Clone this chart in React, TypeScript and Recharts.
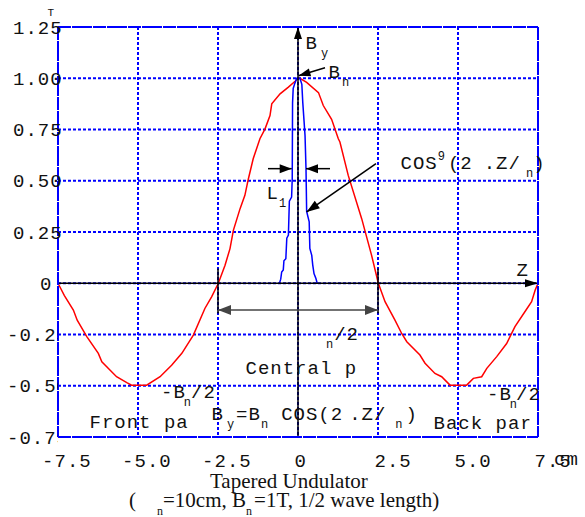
import { CartesianGrid, ComposedChart, Line, ReferenceDot, ReferenceLine, XAxis, YAxis } from 'recharts'

const BLUE = '#0000ff'
const RED = '#ff0000'
const INK = '#111111'
const MONO = '"Liberation Mono", "DejaVu Sans Mono", monospace'
const SERIF = '"Liberation Serif", "DejaVu Serif", serif'
const FS = 19
const LS = 1
const ADV = FS * 0.6 + LS

const xTicks = [-7.5, -5, -2.5, 0, 2.5, 5, 7.5]
const xTickLabels = ['-7.5', '-5.0', '-2.5', '0', '2.5', '5.0', '7.5']
const yTicks = [-0.75, -0.5, -0.25, 0, 0.25, 0.5, 0.75, 1, 1.25]
const yTickLabels = ['-0.75', '-0.50', '-0.25', '0', '0.25', '0.50', '0.75', '1.00', '1.25']

// tapered field By (red)
const taperedZ = [
  -7.5, -7.3, -7.02, -6.9, -6.6, -6.24, -6.13, -5.67, -5.35, -5.2, -4.73, -4.31, -3.95, -3.63, -3.27,
  -2.91, -2.7, -2.49, -2.28, -2.125, -2.02, -1.81, -1.66, -1.55, -1.4, -1.19, -1.03, -0.875, -0.82,
  -0.56, -0.3, -0.09, 0, 0.06, 0.27, 0.64, 0.79, 1.05, 1.26, 1.31, 1.57, 1.99, 2.3, 2.51, 2.72, 3.03,
  3.24, 3.4, 3.81, 3.97, 4.28, 4.49, 4.75, 5.27, 5.48, 5.74, 5.9, 6.21, 6.52, 6.78, 7.09, 7.3, 7.41, 7.5,
]
const taperedB = [
  0, -0.06, -0.131, -0.18, -0.26, -0.342, -0.383, -0.456, -0.485, -0.497, -0.497, -0.456, -0.4, -0.342,
  -0.253, -0.123, -0.066, 0, 0.088, 0.169, 0.258, 0.364, 0.429, 0.51, 0.607, 0.705, 0.753, 0.818, 0.875,
  0.924, 0.957, 0.985, 1.0, 1.0, 0.98, 0.93, 0.867, 0.8, 0.705, 0.689, 0.526, 0.315, 0.136, 0, -0.09,
  -0.18, -0.245, -0.285, -0.35, -0.39, -0.44, -0.456, -0.497, -0.497, -0.464, -0.456, -0.415, -0.358,
  -0.294, -0.212, -0.139, -0.09, -0.034, 0,
]

// cos^9 peak (blue)
const cos9Z = [
  -0.58, -0.54, -0.51, -0.46, -0.44, -0.38, -0.35, -0.3, -0.27, -0.2, -0.18, -0.17, -0.15, -0.1, -0.04,
  0.06, 0.12, 0.15, 0.22, 0.25, 0.27, 0.35, 0.37, 0.43, 0.46, 0.5, 0.56, 0.6,
]
const cos9B = [
  0, 0.02, 0.055, 0.065, 0.11, 0.12, 0.22, 0.235, 0.4, 0.42, 0.51, 0.88, 0.95, 0.975, 1.0,
  1.0, 0.97, 0.88, 0.72, 0.56, 0.35, 0.3, 0.17, 0.136, 0.09, 0.047, 0.023, 0,
]

const taperedRows = taperedZ.map((z, i) => ({ z, b: taperedB[i] }))
const cos9Rows = cos9Z.map((z, i) => ({ z, b: cos9B[i] }))

// frame ticks: 4 per major step on z, 5 per major step on B
const xMinor = Array.from({ length: 25 }, (_, i) => -7.5 + i * 0.625)
const yMinor = Array.from({ length: 41 }, (_, i) => Math.round((-0.75 + i * 0.05) * 100) / 100)

type Run = { t: string; k?: 'sub' | 'sup'; dx?: number }
type Note = { z: number; b: number; runs: Run[]; font?: 'serif' | 'small'; out?: boolean; clipWidth?: number }

const notes: Note[] = [
  { z: 0.234, b: 1.143, runs: [{ t: 'B' }, { t: 'y', k: 'sub', dx: 3 }] },
  { z: 0.953, b: 1.0, runs: [{ t: 'B' }, { t: 'n', k: 'sub', dx: 1 }] },
  { z: -0.984, b: 0.412, runs: [{ t: 'L' }, { t: '1', k: 'sub' }] },
  {
    z: 3.203, b: 0.559,
    runs: [{ t: 'COS' }, { t: '9', k: 'sup' }, { t: '(2', dx: 3 }, { t: '.Z/', dx: 11 }, { t: 'n', k: 'sub', dx: 5 }, { t: ')' }],
  },
  { z: 6.83, b: 0.0375, runs: [{ t: 'Z' }] },
  { z: 0.875, b: -0.279, runs: [{ t: 'n', k: 'sub' }, { t: '/2', dx: 1 }] },
  { z: -1.64, b: -0.445, runs: [{ t: 'Central p' }] },
  { z: -4.281, b: -0.5616, runs: [{ t: '-B' }, { t: 'n', k: 'sub', dx: -2 }, { t: '/2' }] },
  { z: 5.906, b: -0.571, runs: [{ t: '-B' }, { t: 'n', k: 'sub', dx: -2 }, { t: '/2', dx: -1 }] },
  { z: -6.516, b: -0.7083, runs: [{ t: 'Front pa' }] },
  {
    z: -2.703, b: -0.6688,
    runs: [
      { t: 'B' }, { t: 'y', k: 'sub', dx: 3 }, { t: '=B', dx: 2 }, { t: 'n', k: 'sub', dx: 0 },
      { t: 'COS(2', dx: 13 }, { t: '.Z/', dx: 6 }, { t: 'n', k: 'sub', dx: 9 }, { t: ')', dx: 3 },
    ],
  },
  { z: 4.234, b: -0.7126, runs: [{ t: 'Back part' }], clipWidth: 96 },
  { z: -7.83, b: 1.304, runs: [{ t: 'T' }], font: 'small', out: true },
  { z: 8.0, b: -0.888, runs: [{ t: 'cm' }], out: true },
  { z: -2.75, b: -1.0, runs: [{ t: 'Tapered Undulator' }], font: 'serif', out: true },
  {
    z: -5.28, b: -1.092, font: 'serif', out: true,
    runs: [{ t: '(' }, { t: 'n', k: 'sub', dx: 21 }, { t: '=10cm, B' }, { t: 'n', k: 'sub', dx: 0 }, { t: '=1T, 1/2 wave length)', dx: 2 }],
  },
]

type Arrow = { from: [number, number]; to: [number, number]; ends: 'end' | 'both' | 'none'; color?: string; head?: number; half?: number }

const arrows: Arrow[] = [
  { from: [0, -0.75], to: [0, 1.25], ends: 'end', head: 12, half: 4 },
  { from: [-7.5, 0], to: [7.5, 0], ends: 'end', head: 13, half: 4 },
  { from: [0.844, 1.051], to: [0.016, 1.012], ends: 'end', head: 12, half: 4 },
  { from: [-0.9375, 0.559], to: [-0.197, 0.559], ends: 'end', head: 12, half: 4.5 },
  { from: [1.0, 0.559], to: [0.25, 0.559], ends: 'end', head: 12, half: 4.5 },
  { from: [2.4375, 0.583], to: [0.27, 0.348], ends: 'end', head: 13, half: 4.5 },
  { from: [-2.5, 0.072], to: [-2.5, -0.148], ends: 'none' },
  { from: [2.5, 0.072], to: [2.5, -0.148], ends: 'none' },
  { from: [-2.5, -0.131], to: [2.5, -0.131], ends: 'both', color: '#444444', head: 13, half: 5 },
]

function arrowShape(a: Arrow) {
  const color = a.color ?? '#000000'
  const head = a.head ?? 12
  const half = a.half ?? 4
  return (p: any) => {
    const { x1, y1, x2, y2 } = p
    const len = Math.hypot(x2 - x1, y2 - y1) || 1
    const ux = (x2 - x1) / len
    const uy = (y2 - y1) / len
    const tri = (tx: number, ty: number, sx: number, sy: number) => {
      const bx = tx - sx * head
      const by = ty - sy * head
      return `${tx},${ty} ${bx - sy * half},${by + sx * half} ${bx + sy * half},${by - sx * half}`
    }
    return (
      <g>
        <line x1={x1} y1={y1} x2={x2} y2={y2} stroke={color} strokeWidth={1.5} />
        {a.ends !== 'none' && <polygon points={tri(x2, y2, ux, uy)} fill={color} />}
        {a.ends === 'both' && <polygon points={tri(x1, y1, -ux, -uy)} fill={color} />}
      </g>
    )
  }
}

function noteShape(n: Note) {
  const serif = n.font === 'serif'
  const size = serif ? 21 : n.font === 'small' ? 11 : FS
  return (p: any) => {
    let shift = 0
    const x = n.clipWidth ? 0 : p.cx
    const y = n.clipWidth ? 20 : p.cy
    const text = (
      <text
        x={x}
        y={y}
        fontFamily={serif ? SERIF : MONO}
        fontSize={size}
        letterSpacing={serif ? 0 : LS}
        fill={INK}
        style={{ whiteSpace: 'pre' }}
      >
        {n.runs.map((r, i) => {
          const target = r.k === 'sub' ? 8 : r.k === 'sup' ? -9 : 0
          const dy = target - shift
          shift = target
          return (
            <tspan key={i} dx={r.dx ?? 0} dy={dy} fontSize={r.k ? 12 : undefined} letterSpacing={r.k ? 0 : undefined}>
              {r.t}
            </tspan>
          )
        })}
      </text>
    )
    if (!n.clipWidth) return text
    return (
      <svg x={p.cx} y={p.cy - 20} width={n.clipWidth} height={30} overflow="hidden">
        {text}
      </svg>
    )
  }
}

function XTick(p: any) {
  const v = p.payload.value
  const label = xTickLabels[xTicks.indexOf(v)] ?? String(v)
  const start = p.x - 3.5 - (v < 0 ? ADV : 0)
  return (
    <text x={start} y={p.y + 30} fontFamily={MONO} fontSize={FS} letterSpacing={LS} fill={INK}>
      {label}
    </text>
  )
}

function YTick(p: any) {
  const v = p.payload.value
  const label = yTickLabels[yTicks.indexOf(v)] ?? String(v)
  const base = p.y + 6.5
  if (v < 0) {
    return (
      <svg x={0} y={p.y - 15} width={p.x} height={30} overflow="hidden">
        <text x={7} y={21.5} fontFamily={MONO} fontSize={FS} letterSpacing={LS} fill={INK}>
          {label}
        </text>
      </svg>
    )
  }
  const start = v === 0 ? p.x - 18 : p.x - 45
  return (
    <text x={start} y={base} fontFamily={MONO} fontSize={FS} letterSpacing={LS} fill={INK}>
      {label}
    </text>
  )
}

const frameLine = { stroke: BLUE, strokeWidth: 2, strokeDasharray: '6 1' }
const frameTick = { stroke: BLUE, strokeWidth: 1.5 }

export default function App() {
  return (
    <div style={{ position: 'absolute', left: 0, top: 0, width: 585, height: 517, background: '#ffffff' }}>
      <ComposedChart width={585} height={517} margin={{ top: 27, right: 47, bottom: 50, left: 0 }}>
        <CartesianGrid stroke={BLUE} strokeWidth={2} strokeDasharray="3 2" />
        <XAxis
          dataKey="z"
          type="number"
          domain={[-7.5, 7.5]}
          allowDataOverflow
          ticks={xTicks}
          interval={0}
          height={30}
          tickSize={0}
          tickMargin={0}
          tickLine={false}
          axisLine={false}
          tick={<XTick />}
        />
        <YAxis
          type="number"
          domain={[-0.75, 1.25]}
          allowDataOverflow
          ticks={yTicks}
          interval={0}
          width={58}
          tickSize={0}
          tickMargin={0}
          tickLine={false}
          axisLine={false}
          tick={<YTick />}
        />
        <XAxis xAxisId="top" orientation="top" mirror dataKey="z" type="number" domain={[-7.5, 7.5]} allowDataOverflow
          ticks={xMinor} interval={0} tick={false} tickSize={5} axisLine={frameLine} tickLine={frameTick} />
        <XAxis xAxisId="bottom" orientation="bottom" mirror dataKey="z" type="number" domain={[-7.5, 7.5]} allowDataOverflow
          ticks={xMinor} interval={0} tick={false} tickSize={4} axisLine={frameLine} tickLine={frameTick} />
        <YAxis yAxisId="left" orientation="left" mirror type="number" domain={[-0.75, 1.25]} allowDataOverflow
          ticks={yMinor} interval={0} tick={false} tickSize={5} axisLine={frameLine} tickLine={frameTick} />
        <YAxis yAxisId="right" orientation="right" mirror type="number" domain={[-0.75, 1.25]} allowDataOverflow
          ticks={yMinor} interval={0} tick={false} tickSize={5} axisLine={frameLine} tickLine={frameTick} />

        <Line data={taperedRows} dataKey="b" type="linear" stroke={RED} strokeWidth={1.5} dot={false} activeDot={false} isAnimationActive={false} />
        <Line data={cos9Rows} dataKey="b" type="linear" stroke={BLUE} strokeWidth={1.5} dot={false} activeDot={false} isAnimationActive={false} />

        {arrows.map((a, i) => (
          <ReferenceLine
            key={`a${i}`}
            segment={[{ x: a.from[0], y: a.from[1] }, { x: a.to[0], y: a.to[1] }]}
            ifOverflow="visible"
            stroke="#000000"
            shape={arrowShape(a)}
          />
        ))}
        {notes.map((n, i) => (
          <ReferenceDot key={`n${i}`} x={n.z} y={n.b} r={0} ifOverflow="visible" shape={noteShape(n)} />
        ))}
      </ComposedChart>
    </div>
  )
}
